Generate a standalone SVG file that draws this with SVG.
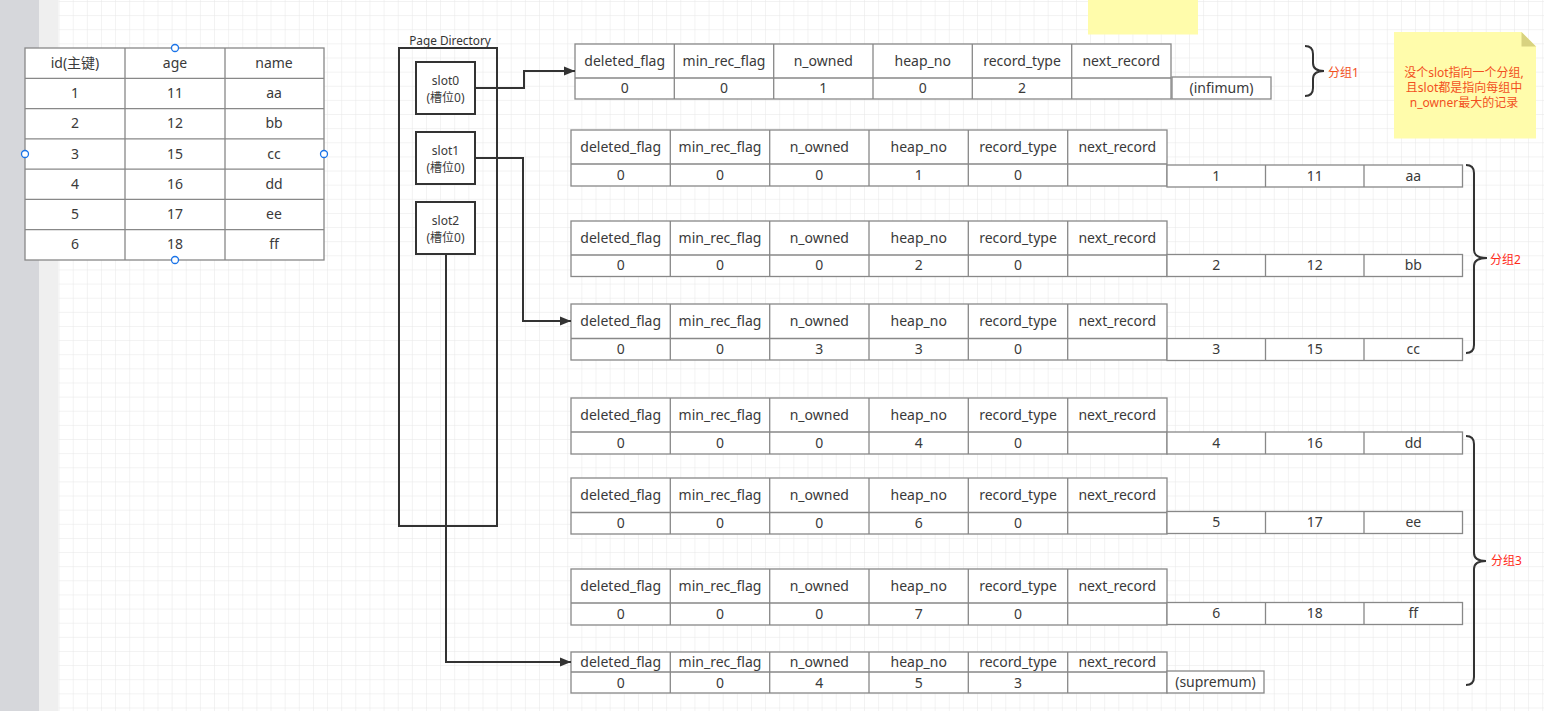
<svg xmlns="http://www.w3.org/2000/svg" width="1544" height="711" viewBox="0 0 1544 711">
<style>
.t{font-family:"Noto Sans","Noto Sans CJK SC",sans-serif;font-size:14px;fill:#3a3a3a;text-anchor:middle;dominant-baseline:central;transform:translateY(-1px)}
.s{font-family:"Noto Sans","Noto Sans CJK SC",sans-serif;font-size:12px;fill:#3a3a3a;text-anchor:middle;dominant-baseline:central}
.cell{fill:#fff;stroke:#888;stroke-width:1.3}
.ln{stroke:#888;stroke-width:1.3;fill:none}
.box{fill:#fff;stroke:#333;stroke-width:2}
.conn{fill:none;stroke:#333;stroke-width:2}
.brace{fill:none;stroke:#333;stroke-width:2}
.red{font-family:"Noto Sans","Noto Sans CJK SC",sans-serif;font-size:12px;fill:#ff2a1a;dominant-baseline:central}
.note{font-family:"Noto Sans","Noto Sans CJK SC",sans-serif;font-size:12px;fill:#f2501e;text-anchor:middle;dominant-baseline:central}
.h{fill:#fff;stroke:#1a73e8;stroke-width:1.3}
</style>
<defs>
<pattern id="grid" patternUnits="userSpaceOnUse" x="58.6" y="1" width="14.13" height="14.13">
<path d="M0,0 H14.13 M0,0 V14.13" fill="none" stroke="#e6e6e6" stroke-width="1"/>
</pattern>
<marker id="arr" markerUnits="userSpaceOnUse" markerWidth="12" markerHeight="10" refX="11" refY="5" orient="auto">
<path d="M0,0.5 L11,5 L0,9.5 Z" fill="#333"/>
</marker>
</defs>
<rect width="1544" height="711" fill="#fff"/>
<rect x="0" y="0" width="39" height="711" fill="#d6d7db"/>
<rect x="39" y="0" width="19.5" height="711" fill="#efefef"/>
<rect x="58.5" y="0" width="1486" height="711" fill="url(#grid)"/>
<rect x="1088" y="0" width="110" height="34.5" fill="#fffcab"/>

<g id="user-table">
<rect class="cell" x="25" y="48" width="299" height="212"/>
<path class="ln" d="M125,48 V260 M225,48 V260 M25,78.3 H324 M25,108.6 H324 M25,138.9 H324 M25,169.1 H324 M25,199.4 H324 M25,229.7 H324"/>
<text class="t" x="75" y="63">id(主键)</text><text class="t" x="175" y="63">age</text><text class="t" x="274" y="63">name</text>
<text class="t" x="75" y="93.5">1</text><text class="t" x="175" y="93.5">11</text><text class="t" x="274" y="93.5">aa</text>
<text class="t" x="75" y="123.8">2</text><text class="t" x="175" y="123.8">12</text><text class="t" x="274" y="123.8">bb</text>
<text class="t" x="75" y="154">3</text><text class="t" x="175" y="154">15</text><text class="t" x="274" y="154">cc</text>
<text class="t" x="75" y="184.3">4</text><text class="t" x="175" y="184.3">16</text><text class="t" x="274" y="184.3">dd</text>
<text class="t" x="75" y="214.5">5</text><text class="t" x="175" y="214.5">17</text><text class="t" x="274" y="214.5">ee</text>
<text class="t" x="75" y="244.8">6</text><text class="t" x="175" y="244.8">18</text><text class="t" x="274" y="244.8">ff</text>
<circle class="h" cx="175" cy="48" r="3.5"/><circle class="h" cx="175" cy="260" r="3.5"/>
<circle class="h" cx="25" cy="154" r="3.5"/><circle class="h" cx="324" cy="154" r="3.5"/>
</g>

<g id="page-directory">
<text x="450" y="40" style="font-family:'Noto Sans',sans-serif;font-size:11.8px;fill:#333;text-anchor:middle;dominant-baseline:central">Page Directory</text>
<rect x="399" y="48" width="98" height="478" style="fill:none;stroke:#333;stroke-width:2"/>
</g>
<g id="slot0"><rect class="box" x="416" y="62" width="59" height="52"/><text class="s" x="445.5" y="80">slot0</text><text class="s" x="445.5" y="97">(槽位0)</text></g>
<g id="slot1"><rect class="box" x="416" y="132" width="59" height="52"/><text class="s" x="445.5" y="150">slot1</text><text class="s" x="445.5" y="167">(槽位0)</text></g>
<g id="slot2"><rect class="box" x="416" y="202" width="59" height="52"/><text class="s" x="445.5" y="220">slot2</text><text class="s" x="445.5" y="237">(槽位0)</text></g>

<g id="rec-infimum">
<rect class="cell" x="575" y="44" width="596" height="55"/>
<path class="ln" d="M575,78 H1171 M674.3,44 V99 M773.7,44 V99 M873,44 V99 M972.3,44 V99 M1071.7,44 V99"/>
<text class="t" x="624.7" y="61">deleted_flag</text><text class="t" x="724" y="61">min_rec_flag</text><text class="t" x="823.3" y="61">n_owned</text><text class="t" x="922.7" y="61">heap_no</text><text class="t" x="1022" y="61">record_type</text><text class="t" x="1121.3" y="61">next_record</text>
<text class="t" x="624.7" y="88">0</text><text class="t" x="724" y="88">0</text><text class="t" x="823.3" y="88">1</text><text class="t" x="922.7" y="88">0</text><text class="t" x="1022" y="88">2</text>
<rect class="cell" x="1172" y="77" width="99" height="22"/><text class="t" x="1221.5" y="88">(infimum)</text>
</g>

<g id="rec-1">
<rect class="cell" x="571" y="130" width="596" height="56"/>
<path class="ln" d="M571,164 H1167 M670.3,130 V186 M769.7,130 V186 M869,130 V186 M968.3,130 V186 M1067.7,130 V186"/>
<text class="t" x="620.7" y="147">deleted_flag</text><text class="t" x="720" y="147">min_rec_flag</text><text class="t" x="819.3" y="147">n_owned</text><text class="t" x="918.7" y="147">heap_no</text><text class="t" x="1018" y="147">record_type</text><text class="t" x="1117.3" y="147">next_record</text>
<text class="t" x="620.7" y="175">0</text><text class="t" x="720" y="175">0</text><text class="t" x="819.3" y="175">0</text><text class="t" x="918.7" y="175">1</text><text class="t" x="1018" y="175">0</text>
<rect class="cell" x="1167" y="165" width="295.5" height="22"/><path class="ln" d="M1265.5,165 V187 M1364,165 V187"/>
<text class="t" x="1216.3" y="176">1</text><text class="t" x="1314.8" y="176">11</text><text class="t" x="1413.3" y="176">aa</text>
</g>

<g id="rec-2">
<rect class="cell" x="571" y="221" width="596" height="55.5"/>
<path class="ln" d="M571,255 H1167 M670.3,221 V276.5 M769.7,221 V276.5 M869,221 V276.5 M968.3,221 V276.5 M1067.7,221 V276.5"/>
<text class="t" x="620.7" y="238">deleted_flag</text><text class="t" x="720" y="238">min_rec_flag</text><text class="t" x="819.3" y="238">n_owned</text><text class="t" x="918.7" y="238">heap_no</text><text class="t" x="1018" y="238">record_type</text><text class="t" x="1117.3" y="238">next_record</text>
<text class="t" x="620.7" y="265.5">0</text><text class="t" x="720" y="265.5">0</text><text class="t" x="819.3" y="265.5">0</text><text class="t" x="918.7" y="265.5">2</text><text class="t" x="1018" y="265.5">0</text>
<rect class="cell" x="1167" y="254.5" width="295.5" height="22"/><path class="ln" d="M1265.5,254.5 V276.5 M1364,254.5 V276.5"/>
<text class="t" x="1216.3" y="265.5">2</text><text class="t" x="1314.8" y="265.5">12</text><text class="t" x="1413.3" y="265.5">bb</text>
</g>

<g id="rec-3">
<rect class="cell" x="571" y="304" width="596" height="56"/>
<path class="ln" d="M571,338.5 H1167 M670.3,304 V360 M769.7,304 V360 M869,304 V360 M968.3,304 V360 M1067.7,304 V360"/>
<text class="t" x="620.7" y="321">deleted_flag</text><text class="t" x="720" y="321">min_rec_flag</text><text class="t" x="819.3" y="321">n_owned</text><text class="t" x="918.7" y="321">heap_no</text><text class="t" x="1018" y="321">record_type</text><text class="t" x="1117.3" y="321">next_record</text>
<text class="t" x="620.7" y="349">0</text><text class="t" x="720" y="349">0</text><text class="t" x="819.3" y="349">3</text><text class="t" x="918.7" y="349">3</text><text class="t" x="1018" y="349">0</text>
<rect class="cell" x="1167" y="338.5" width="295.5" height="22"/><path class="ln" d="M1265.5,338.5 V360.5 M1364,338.5 V360.5"/>
<text class="t" x="1216.3" y="349.5">3</text><text class="t" x="1314.8" y="349.5">15</text><text class="t" x="1413.3" y="349.5">cc</text>
</g>

<g id="rec-4">
<rect class="cell" x="571" y="398" width="596" height="56"/>
<path class="ln" d="M571,432 H1167 M670.3,398 V454 M769.7,398 V454 M869,398 V454 M968.3,398 V454 M1067.7,398 V454"/>
<text class="t" x="620.7" y="415">deleted_flag</text><text class="t" x="720" y="415">min_rec_flag</text><text class="t" x="819.3" y="415">n_owned</text><text class="t" x="918.7" y="415">heap_no</text><text class="t" x="1018" y="415">record_type</text><text class="t" x="1117.3" y="415">next_record</text>
<text class="t" x="620.7" y="443">0</text><text class="t" x="720" y="443">0</text><text class="t" x="819.3" y="443">0</text><text class="t" x="918.7" y="443">4</text><text class="t" x="1018" y="443">0</text>
<rect class="cell" x="1167" y="432" width="295.5" height="22"/><path class="ln" d="M1265.5,432 V454 M1364,432 V454"/>
<text class="t" x="1216.3" y="443">4</text><text class="t" x="1314.8" y="443">16</text><text class="t" x="1413.3" y="443">dd</text>
</g>

<g id="rec-5">
<rect class="cell" x="571" y="478" width="596" height="56"/>
<path class="ln" d="M571,512.5 H1167 M670.3,478 V534 M769.7,478 V534 M869,478 V534 M968.3,478 V534 M1067.7,478 V534"/>
<text class="t" x="620.7" y="495">deleted_flag</text><text class="t" x="720" y="495">min_rec_flag</text><text class="t" x="819.3" y="495">n_owned</text><text class="t" x="918.7" y="495">heap_no</text><text class="t" x="1018" y="495">record_type</text><text class="t" x="1117.3" y="495">next_record</text>
<text class="t" x="620.7" y="523">0</text><text class="t" x="720" y="523">0</text><text class="t" x="819.3" y="523">0</text><text class="t" x="918.7" y="523">6</text><text class="t" x="1018" y="523">0</text>
<rect class="cell" x="1167" y="511.5" width="295.5" height="22"/><path class="ln" d="M1265.5,511.5 V533.5 M1364,511.5 V533.5"/>
<text class="t" x="1216.3" y="522.5">5</text><text class="t" x="1314.8" y="522.5">17</text><text class="t" x="1413.3" y="522.5">ee</text>
</g>

<g id="rec-6">
<rect class="cell" x="571" y="569" width="596" height="56"/>
<path class="ln" d="M571,603 H1167 M670.3,569 V625 M769.7,569 V625 M869,569 V625 M968.3,569 V625 M1067.7,569 V625"/>
<text class="t" x="620.7" y="586">deleted_flag</text><text class="t" x="720" y="586">min_rec_flag</text><text class="t" x="819.3" y="586">n_owned</text><text class="t" x="918.7" y="586">heap_no</text><text class="t" x="1018" y="586">record_type</text><text class="t" x="1117.3" y="586">next_record</text>
<text class="t" x="620.7" y="614">0</text><text class="t" x="720" y="614">0</text><text class="t" x="819.3" y="614">0</text><text class="t" x="918.7" y="614">7</text><text class="t" x="1018" y="614">0</text>
<rect class="cell" x="1167" y="602.5" width="295.5" height="22"/><path class="ln" d="M1265.5,602.5 V624.5 M1364,602.5 V624.5"/>
<text class="t" x="1216.3" y="613.5">6</text><text class="t" x="1314.8" y="613.5">18</text><text class="t" x="1413.3" y="613.5">ff</text>
</g>

<g id="rec-supremum">
<rect class="cell" x="571" y="652" width="596" height="41"/>
<path class="ln" d="M571,672 H1167 M670.3,652 V693 M769.7,652 V693 M869,652 V693 M968.3,652 V693 M1067.7,652 V693"/>
<text class="t" x="620.7" y="662">deleted_flag</text><text class="t" x="720" y="662">min_rec_flag</text><text class="t" x="819.3" y="662">n_owned</text><text class="t" x="918.7" y="662">heap_no</text><text class="t" x="1018" y="662">record_type</text><text class="t" x="1117.3" y="662">next_record</text>
<text class="t" x="620.7" y="683">0</text><text class="t" x="720" y="683">0</text><text class="t" x="819.3" y="683">4</text><text class="t" x="918.7" y="683">5</text><text class="t" x="1018" y="683">3</text>
<rect class="cell" x="1167" y="671" width="97" height="22"/><text class="t" x="1215.5" y="682">(supremum)</text>
</g>

<g id="group1-brace"><path class="brace" d="M1305,46 Q1313,46 1313,54 L1313,63 Q1313,71 1324,71 Q1313,71 1313,79 L1313,88 Q1313,96 1305,96"/><text class="red" x="1328" y="72" style="fill:#f2501e">分组1</text></g>
<g id="group2-brace"><path class="brace" d="M1466,165 Q1474,165 1474,173 L1474,250 Q1474,258 1487,258 Q1474,258 1474,266 L1474,345 Q1474,353 1466,353"/><text class="red" x="1490" y="259">分组2</text></g>
<g id="group3-brace"><path class="brace" d="M1466,436 Q1474,436 1474,444 L1474,553 Q1474,561 1486,561 Q1474,561 1474,569 L1474,677 Q1474,685 1466,685"/><text class="red" x="1491" y="560">分组3</text></g>

<g id="note">
<path d="M1394,32 H1521.5 L1536,46.5 V138.5 H1394 Z" fill="#fffcab"/>
<path d="M1521.5,32 L1536,46.5 H1521.5 Z" fill="#d8d280"/>
<text class="note" x="1464" y="72">没个slot指向一个分组,</text>
<text class="note" x="1464" y="87">且slot都是指向每组中</text>
<text class="note" x="1464" y="102">n_owner最大的记录</text>
</g>

<g id="connectors">
<path class="conn" d="M475,88 H524 V71 H575" marker-end="url(#arr)"/>
<path class="conn" d="M475,158 H523 V321 H571" marker-end="url(#arr)"/>
<path class="conn" d="M446,254 V662 H571" marker-end="url(#arr)"/>
</g>
</svg>
